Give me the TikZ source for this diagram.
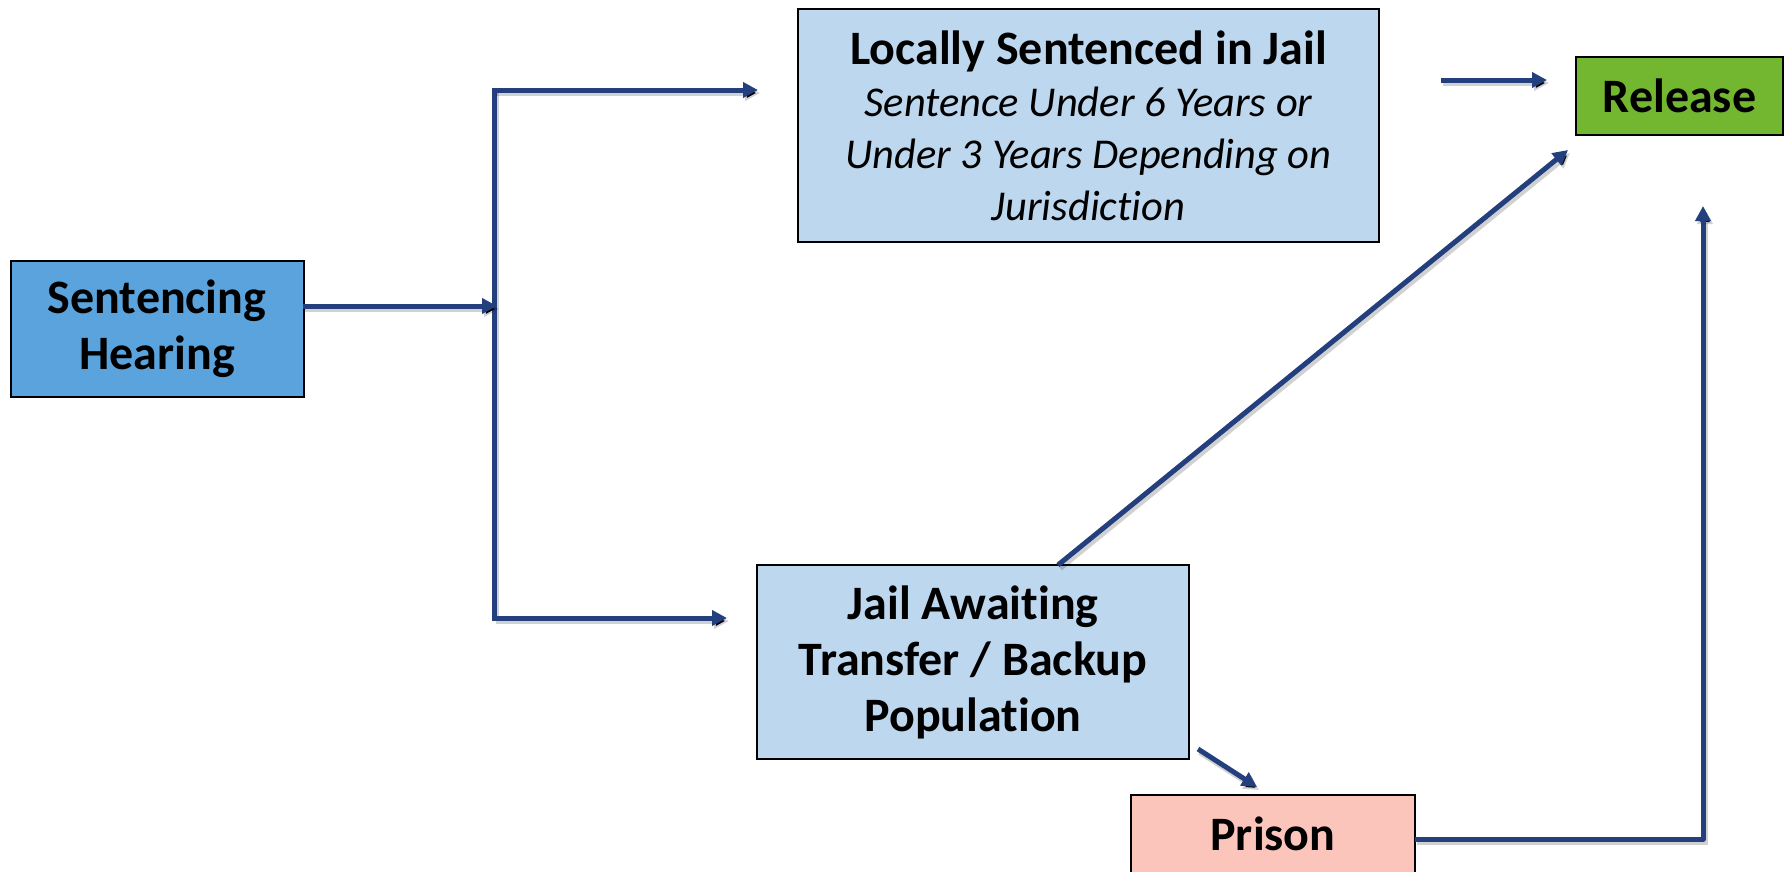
\documentclass[tikz,border=0pt]{standalone}
\usepackage{fontspec}
\setmainfont{Carlito}[Ligatures=NoCommon]
\usetikzlibrary{arrows.meta}
\definecolor{arrowblue}{HTML}{243F7E}
\definecolor{midblue}{HTML}{5BA3DC}
\definecolor{lightblue}{HTML}{BDD7EE}
\definecolor{relgreen}{HTML}{73B630}
\definecolor{prisonpink}{HTML}{FCC5BB}
\tikzset{
  box/.style={draw=black, line width=2pt, rectangle, inner sep=0pt, align=center},
  boldtext/.style={font=\bfseries\fontsize{48}{56}\selectfont},
  shadowed/.style={preaction={draw=black, draw opacity=0.18, line width=6pt, transform canvas={shift={(2pt,-3pt)}}}},
  arr/.style={draw=arrowblue, line width=5pt, line join=round, shadowed, -{Triangle[length=15pt,width=15pt]}},
  conn/.style={draw=arrowblue, line width=5pt, shadowed},
}
\begin{document}
\begin{tikzpicture}[x=1pt,y=-1pt]
\useasboundingbox (0,0) rectangle (1785,871);
\clip (0,0) rectangle (1785,871);
% boxes
\node[box, fill=midblue, boldtext, minimum width=293pt, minimum height=136pt] (sent) at (157,329) {\raisebox{-3pt}{Sentencing}\\\raisebox{-3pt}{Hearing}};
\node[box, fill=lightblue, minimum width=581pt, minimum height=233pt, font=\itshape\fontsize{42.5}{52}\selectfont] (loc) at (1088.5,125.5)
  {{\upshape\bfseries\fontsize{48}{52}\selectfont Locally Sentenced in Jail}\\Sentence Under 6 Years or\\Under 3 Years Depending on\\Jurisdiction};
\node[box, fill=lightblue, boldtext, minimum width=432pt, minimum height=194pt] (jail) at (973,662) {Jail Awaiting\\Transfer / Backup\\Population};
\node[box, fill=relgreen, boldtext, minimum width=207pt, minimum height=78pt] (rel) at (1679.5,96) {Release};
\node[box, fill=prisonpink, minimum width=284pt, minimum height=150pt] (pris) at (1273,870) {};
\node[boldtext, anchor=base] (pristext) at (1273,850) {Prison};
% coordinates
\coordinate (ctop) at (494,90);
\coordinate (cbot) at (494,618);
\coordinate (sentout) at (303,306);
\coordinate (splitin) at (497,306);
\coordinate (loctip) at (758,90);
\coordinate (jailtip) at (727,618);
\coordinate (locout) at (1441,80);
\coordinate (reltip) at (1547,80);
\coordinate (jailtop) at (1058,565);
\coordinate (diagtip) at (1568,150);
\coordinate (jailout) at (1198,749);
\coordinate (pristip) at (1257,787);
\coordinate (prisout) at (1415,839);
\coordinate (uptip) at (1703,206);
% connectors
\draw[conn, line cap=rect] (ctop) -- (cbot);
\draw[arr] (sentout) -- (splitin);
\draw[arr] (ctop) -- (loctip);
\draw[arr] (cbot) -- (jailtip);
\draw[arr] (locout) -- (reltip);
\draw[arr] (jailtop) -- (diagtip);
\draw[arr] (jailout) -- (pristip);
\draw[arr] (prisout) -| (uptip);
\end{tikzpicture}
\end{document}
